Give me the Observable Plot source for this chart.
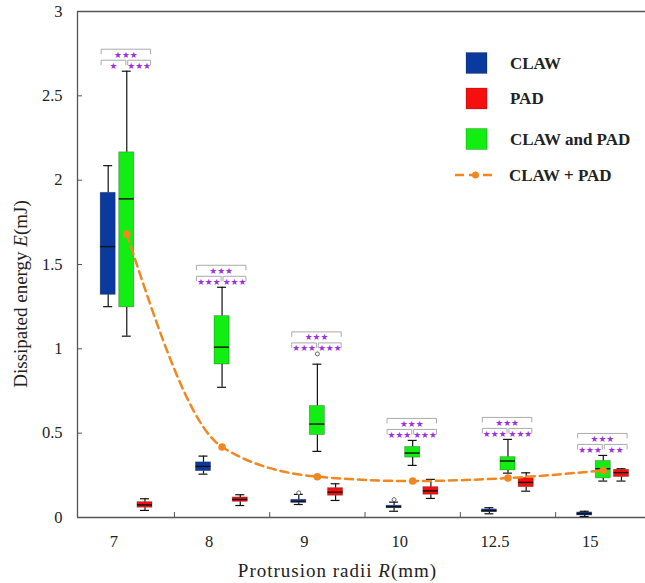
<!DOCTYPE html>
<html><head><meta charset="utf-8">
<script src="https://cdn.jsdelivr.net/npm/d3@7"></script>
<script src="https://cdn.jsdelivr.net/npm/@observablehq/plot@0.6"></script>
<style>body{margin:0;background:#fff;} #chart{width:645px;height:583px;}</style>
</head><body><div id="chart"></div>
<script>
// ---- data ----
const radii = ["7", "8", "9", "10", "12.5", "15"];
// five-number summaries: [min, q1, median, q3, max]
const claw = [
  [1.25, 1.32, 1.606, 1.925, 2.086],
  [0.257, 0.275, 0.303, 0.327, 0.364],
  [0.077, 0.087, 0.095, 0.105, 0.137],
  [0.037, 0.055, 0.064, 0.07, 0.091],
  [0.022, 0.032, 0.04, 0.048, 0.058],
  [0.006, 0.012, 0.022, 0.03, 0.037]
];
const clawAndPad = [
  [1.075, 1.246, 1.889, 2.165, 2.646],
  [0.772, 0.907, 1.01, 1.194, 1.365],
  [0.392, 0.489, 0.554, 0.661, 0.909],
  [0.309, 0.355, 0.382, 0.418, 0.457],
  [0.263, 0.279, 0.335, 0.358, 0.463],
  [0.216, 0.232, 0.289, 0.335, 0.368]
];
const pad = [
  [0.042, 0.058, 0.075, 0.091, 0.111],
  [0.071, 0.093, 0.107, 0.119, 0.135],
  [0.101, 0.129, 0.15, 0.174, 0.2],
  [0.113, 0.135, 0.158, 0.18, 0.226],
  [0.156, 0.18, 0.208, 0.234, 0.265],
  [0.216, 0.24, 0.266, 0.283, 0.289]
];
const clawOutliers = [[], [], [0.146], [0.106], [], []];
const clawAndPadOutliers = [[], [], [0.97], [], [], []];
const padOutliers = [[], [], [], [], [], []];
const clawPlusPad = [1.68, 0.418, 0.242, 0.216, 0.234, 0.279];
const sigTop = ["★★★", "★★★", "★★★", "★★★", "★★★", "★★★"];
const sigLeft = ["★", "★★★", "★★★", "★★★", "★★★", "★★★"];
const sigRight = ["★★★", "★★★", "★★★", "★★★", "★★★", "★★"];
const seriesNames = ["CLAW", "PAD", "CLAW and PAD"];
const yTicks = [0, 0.5, 1, 1.5, 2, 2.5, 3];

// ---- layout / style ----
const W = 645, H = 583, ML = 77, MR = 0, MT = 11, MB = 66;
const colors = ["#0a3a9e", "#f50f0f", "#12ee12"];
const offsets = {"CLAW": -0.195, "CLAW and PAD": 0, "PAD": 0.191};
const boxHW = 0.079, capHW = 0.047, legT = 0.027;
const orange = "#f0871f", purple = "#9b30e0";

const statsBy = {"CLAW": claw, "PAD": pad, "CLAW and PAD": clawAndPad};
const outBy = {"CLAW": clawOutliers, "PAD": padOutliers, "CLAW and PAD": clawAndPadOutliers};
const rows = [], outs = [];
for (const s of seriesNames) {
  statsBy[s].forEach((v, i) => rows.push({i, series: s, x: i + offsets[s], min: v[0], q1: v[1], med: v[2], q3: v[3], max: v[4]}));
  outBy[s].forEach((arr, i) => arr.forEach(y => outs.push({x: i + offsets[s], y})));
}
const sumRows = clawPlusPad.map((y, i) => ({i, y}));

// significance brackets, placed above the CLAW and PAD box data
const brTop = [], brLow = [], txTop = [], txLow = [];
radii.forEach((r, i) => {
  const base = Math.max(clawAndPad[i][4], ...clawAndPadOutliers[i]);
  const xL = i + offsets["CLAW"] - boxHW + 0.005;
  const xR = i + offsets["PAD"] + boxHW - 0.02;
  const pts = (id, a, b) => [[a, base - legT], [a, base], [b, base], [b, base - legT]].map(([x, y]) => ({id, x, y}));
  brTop.push(...pts("t" + i, xL, xR));
  brLow.push(...pts("l" + i, xL, i - 0.01), ...pts("r" + i, i + 0.01, xR));
  txTop.push({x: (xL + xR) / 2, y: base, t: sigTop[i]});
  txLow.push({x: (xL + i - 0.01) / 2, y: base, t: sigLeft[i]});
  txLow.push({x: (i + 0.01 + xR) / 2, y: base, t: sigRight[i]});
});

const plotW = W - ML - MR, plotH = H - MT - MB;
const xDomain = [-0.517, 5.443];

const svg = Plot.plot({
  width: W, height: H,
  marginLeft: ML, marginRight: MR, marginTop: MT, marginBottom: MB,
  style: {fontFamily: "'Liberation Serif', serif", fontSize: "16.5px", background: "#fff", color: "#222"},
  x: {type: "linear", domain: xDomain, axis: null},
  y: {domain: [0, 3], axis: null},
  color: {domain: seriesNames, range: colors},
  marks: [
    // frame lines & inward ticks
    Plot.ruleY([0, 3], {stroke: "#555", strokeWidth: 1.3}),
    Plot.ruleX([xDomain[0]], {stroke: "#555", strokeWidth: 1.3}),
    Plot.ruleY(yTicks.slice(1, -1), {stroke: "#555", insetRight: plotW - 5}),
    Plot.ruleX(d3.range(0.5, 5, 1), {stroke: "#555", insetTop: plotH - 5}),
    Plot.axisY(yTicks, {tickSize: 0, tickPadding: 15, tickFormat: d => String(d), label: null, fill: "#222"}),
    Plot.axisX(d3.range(radii.length), {tickSize: 0, tickPadding: 18, tickFormat: i => radii[i], label: null, dx: -13, fill: "#222"}),
    // whiskers
    Plot.ruleX(rows, {x: "x", y1: "min", y2: "q1", stroke: "#111", strokeWidth: 1.2}),
    Plot.ruleX(rows, {x: "x", y1: "q3", y2: "max", stroke: "#111", strokeWidth: 1.2}),
    Plot.ruleY(rows, {y: "min", x1: d => d.x - capHW, x2: d => d.x + capHW, stroke: "#111", strokeWidth: 1.2}),
    Plot.ruleY(rows, {y: "max", x1: d => d.x - capHW, x2: d => d.x + capHW, stroke: "#111", strokeWidth: 1.2}),
    // boxes
    Plot.rect(rows, {x1: d => d.x - boxHW, x2: d => d.x + boxHW, y1: "q1", y2: "q3", fill: "series", stroke: "rgba(0,0,0,0.3)", strokeWidth: 0.8}),
    Plot.ruleY(rows, {y: "med", x1: d => d.x - boxHW, x2: d => d.x + boxHW, stroke: "#111", strokeWidth: 1.4}),
    Plot.dot(outs, {x: "x", y: "y", r: 2, stroke: "#444", fill: "#fff", strokeWidth: 0.8}),
    // significance brackets & stars
    Plot.line(brTop, {x: "x", y: "y", z: "id", stroke: "#aaa", strokeWidth: 1, dy: -22, curve: "linear"}),
    Plot.line(brLow, {x: "x", y: "y", z: "id", stroke: "#aaa", strokeWidth: 1, dy: -11, curve: "linear"}),
    Plot.text(txTop, {x: "x", y: "y", text: "t", dy: -16.5, fill: purple, fontSize: 8.8, fontFamily: "DejaVu Sans"}),
    Plot.text(txLow, {x: "x", y: "y", text: "t", dy: -5.5, fill: purple, fontSize: 8.8, fontFamily: "DejaVu Sans"}),
    // CLAW + PAD curve
    Plot.line(sumRows, {x: "i", y: "y", stroke: orange, strokeWidth: 2.5, strokeDasharray: "8,5", curve: "monotone-x"}),
    Plot.dot(sumRows, {x: "i", y: "y", r: 3.8, fill: orange})
  ]
});

// titles and legend (text, not data)
const s = d3.select(svg);
const yt = s.append("text").attr("transform", "translate(20,294) rotate(-90)")
  .attr("text-anchor", "middle").attr("dominant-baseline", "central")
  .style("font-family", "'Liberation Serif', serif").style("font-size", "19px").attr("fill", "#222");
yt.append("tspan").text("Dissipated energy ");
yt.append("tspan").style("font-style", "italic").text("E");
yt.append("tspan").text("(mJ)");
const xt = s.append("text").attr("x", 337.5).attr("y", 570)
  .attr("text-anchor", "middle").attr("dominant-baseline", "central")
  .style("font-family", "'Liberation Serif', serif").style("font-size", "19px").style("letter-spacing", "1px").attr("fill", "#222");
xt.append("tspan").text("Protrusion radii ");
xt.append("tspan").style("font-style", "italic").text("R");
xt.append("tspan").text("(mm)");

const legend = s.append("g").attr("text-anchor", "start")
  .style("font-family", "'Liberation Serif', serif").style("font-size", "17px").style("font-weight", "bold");
const legItems = [
  {name: "CLAW", y: 63, color: colors[0]},
  {name: "PAD", y: 98.5, color: colors[1]},
  {name: "CLAW and PAD", y: 139, color: colors[2]}
];
legItems.forEach(d => {
  legend.append("rect").attr("x", 466).attr("y", d.y - 10.5).attr("width", 21).attr("height", 21)
    .attr("fill", d.color).attr("stroke", "rgba(0,0,0,0.2)");
  legend.append("text").attr("x", 510).attr("y", d.y).attr("text-anchor", "start").attr("dominant-baseline", "central").attr("fill", "#222").text(d.name);
});
legend.append("line").attr("x1", 455).attr("x2", 496).attr("y1", 175).attr("y2", 175)
  .attr("stroke", orange).attr("stroke-width", 2.5).attr("stroke-dasharray", "9,5");
legend.append("circle").attr("cx", 475.5).attr("cy", 175).attr("r", 3.5).attr("fill", orange);
legend.append("text").attr("x", 509).attr("y", 175).attr("text-anchor", "start").attr("dominant-baseline", "central").attr("fill", "#222").text("CLAW + PAD");

document.getElementById("chart").append(svg);
</script>
</body></html>
